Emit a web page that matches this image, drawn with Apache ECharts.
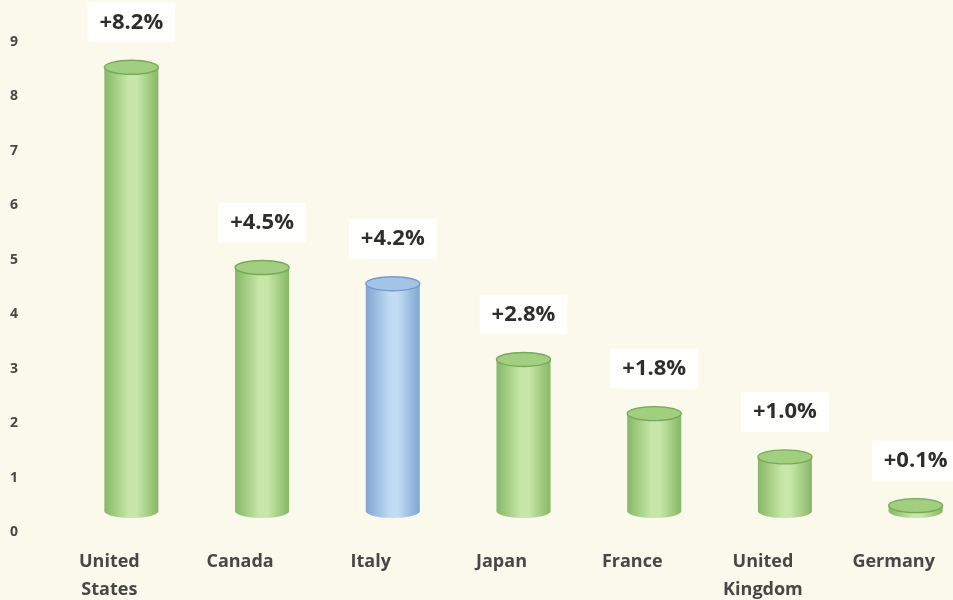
<!DOCTYPE html>
<html>
<head>
<meta charset="utf-8">
<script src="https://cdn.jsdelivr.net/npm/echarts@6/dist/echarts.min.js"></script>
<style>
  html, body { margin: 0; padding: 0; background: #fbf8ec; }
  #chart { width: 953px; height: 600px; }
</style>
</head>
<body>
<div id="chart"></div>
<script>
// Growth by country, percent
const countries = ['United\nStates', 'Canada', 'Italy', 'Japan', 'France', 'United\nKingdom', 'Germany'];
const growth = [8.2, 4.5, 4.2, 2.8, 1.8, 1.0, 0.1];
const highlighted = ['Italy'];
const yTicks = [0, 1, 2, 3, 4, 5, 6, 7, 8, 9];

const palette = {
  green: { edge: '#86b866', mid: '#c8e6a8', top: '#a2ce80', rim: '#78a95a' },
  blue:  { edge: '#7fa6d2', mid: '#c0dbf3', top: '#a3c4e8', rim: '#759bc8' }
};

function bodyGradient(c) {
  return new echarts.graphic.LinearGradient(0, 0, 1, 0, [
    { offset: 0, color: c.edge },
    { offset: 0.45, color: c.mid },
    { offset: 0.6, color: c.mid },
    { offset: 1, color: c.edge }
  ]);
}

const chart = echarts.init(document.getElementById('chart'), null, { renderer: 'canvas' });

const tickFont = { fontFamily: 'Open Sans', fontWeight: 'bold', color: '#474747' };

chart.setOption({
  backgroundColor: '#fbf8ec',
  animation: false,
  grid: [
    // plotting area for the cylinders (runs past the right edge)
    { left: 66, width: 915, top: 24, bottom: 89, containLabel: false, outerBoundsMode: 'none' },
    // tick-label frame: shifted down and left of the cylinder floor
    { left: 44, width: 915, top: 42, bottom: 68, containLabel: false, outerBoundsMode: 'none' }
  ],
  xAxis: [
    {
      type: 'category',
      gridIndex: 0,
      data: countries,
      axisLine: { show: false },
      axisTick: { show: false },
      axisLabel: { show: false }
    },
    {
      type: 'category',
      gridIndex: 1,
      data: countries,
      axisLine: { show: false },
      axisTick: { show: false },
      axisLabel: Object.assign({ margin: 16, fontSize: 18, lineHeight: 28 }, tickFont)
    }
  ],
  yAxis: [
    {
      type: 'value',
      gridIndex: 0,
      min: yTicks[0],
      max: yTicks[yTicks.length - 1],
      interval: 1,
      axisLine: { show: false },
      axisTick: { show: false },
      splitLine: { show: false },
      axisLabel: { show: false }
    },
    {
      type: 'value',
      gridIndex: 1,
      min: yTicks[0],
      max: yTicks[yTicks.length - 1],
      interval: 1,
      axisLine: { show: false },
      axisTick: { show: false },
      splitLine: { show: false },
      axisLabel: Object.assign({ margin: 26, fontSize: 14 }, tickFont)
    }
  ],
  series: [{
    type: 'custom',
    xAxisIndex: 0,
    yAxisIndex: 0,
    data: growth.map((v, i) => [i, v]),
    renderItem(params, api) {
      const idx = api.value(0);
      const v = api.value(1);
      const top = api.coord([idx, v]);
      const base = api.coord([idx, 0]);
      const w = 54;
      const ry = 7;
      const c = highlighted.includes(countries[idx]) ? palette.blue : palette.green;
      const label = '+' + v.toFixed(1) + '%';
      return {
        type: 'group',
        children: [
          {
            type: 'ellipse',
            shape: { cx: base[0], cy: base[1], rx: w / 2, ry: ry },
            style: { fill: bodyGradient(c) }
          },
          {
            type: 'rect',
            shape: { x: top[0] - w / 2, y: top[1], width: w, height: base[1] - top[1] },
            style: { fill: bodyGradient(c) }
          },
          {
            type: 'ellipse',
            shape: { cx: top[0], cy: top[1], rx: w / 2, ry: ry },
            style: { fill: c.top, stroke: c.rim, lineWidth: 1.4 }
          },
          {
            type: 'text',
            x: top[0],
            y: top[1] - 45,
            style: {
              text: label,
              align: 'center',
              verticalAlign: 'middle',
              fontFamily: 'Open Sans',
              fontWeight: 'bold',
              fontSize: 22,
              fill: '#2e2e2e',
              backgroundColor: 'rgba(255,255,255,0.9)',
              padding: [9, 12, 9, 12]
            }
          }
        ]
      };
    }
  }]
});
</script>
</body>
</html>
